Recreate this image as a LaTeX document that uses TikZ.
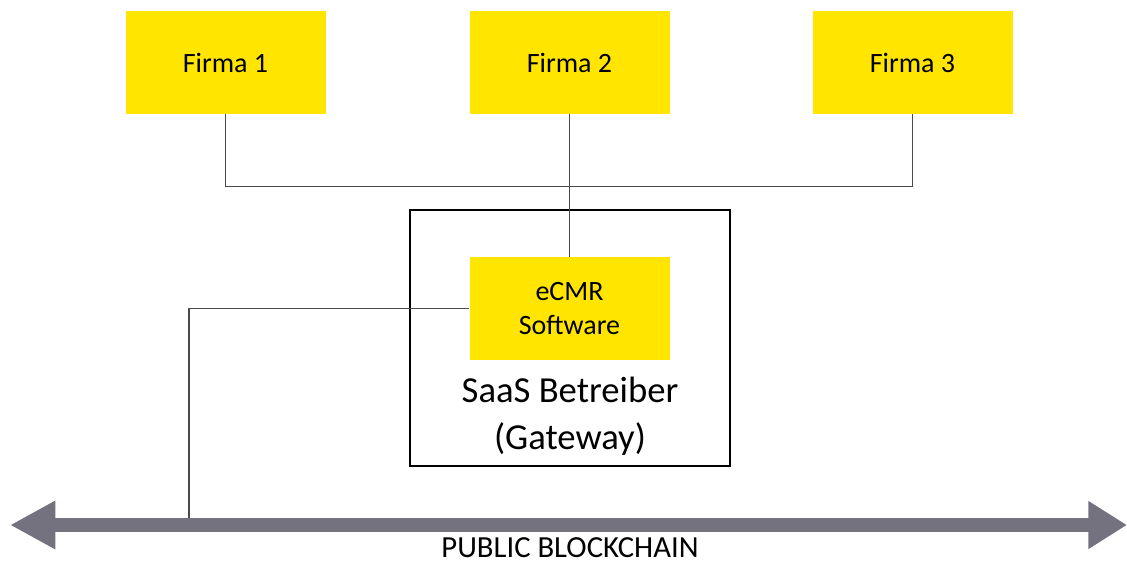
\documentclass[tikz,border=0pt]{standalone}
\usepackage{fontspec}
\setmainfont{Carlito}
\usetikzlibrary{arrows.meta}
\definecolor{boxyellow}{HTML}{FFE500}
\definecolor{chaingray}{HTML}{73727E}
\definecolor{wire}{HTML}{4A4A4A}
\tikzset{
  firm/.style={fill=boxyellow, draw=none, minimum width=150pt, minimum height=77.25pt,
    inner sep=0pt, align=center, font=\fontsize{21}{25}\selectfont},
  wireline/.style={draw=wire, line width=0.9pt},
  gateway/.style={draw=black, line width=1.4pt, minimum width=240pt, minimum height=192pt, inner sep=0pt},
  chain/.style={draw=chaingray, line width=10.5pt,
    {Triangle[length=34pt, width=34pt]}-{Triangle[length=29pt, width=34pt]}},
}
\begin{document}
\begin{tikzpicture}[x=0.75pt, y=-0.75pt]
\useasboundingbox (0,0) rectangle (1127,563);

% companies
\node[firm] (f1) at (225.5,62.5) {Firma 1};
\node[firm] (f2) at (569.5,62.5) {Firma 2};
\node[firm] (f3) at (912.5,62.5) {Firma 3};

% operator box with the software inside
\node[gateway] (saas) at (570,338) {};
\node[firm] (ecmr) at (569.5,308.5) {eCMR\\Software};
\node[align=center, font=\fontsize{27.5}{35}\selectfont] (saaslbl) at (570,416) {SaaS Betreiber\\(Gateway)};

% blockchain ends
\coordinate (bcL) at (10,525);
\coordinate (bcR) at (1127,525);
\coordinate (tap) at (189,525);

% wiring
\draw[wireline] (f1.south) -- ++(0,72) -| (f3.south);
\draw[wireline] (f2.south) -- (ecmr.north);
\draw[wireline] (ecmr.west) -| (tap);

% public blockchain
\draw[chain] (bcL) -- (bcR);
\node[inner sep=0pt, font=\fontsize{23}{28}\selectfont] (bclbl) at (570,548) {PUBLIC BLOCKCHAIN};
\end{tikzpicture}
\end{document}
